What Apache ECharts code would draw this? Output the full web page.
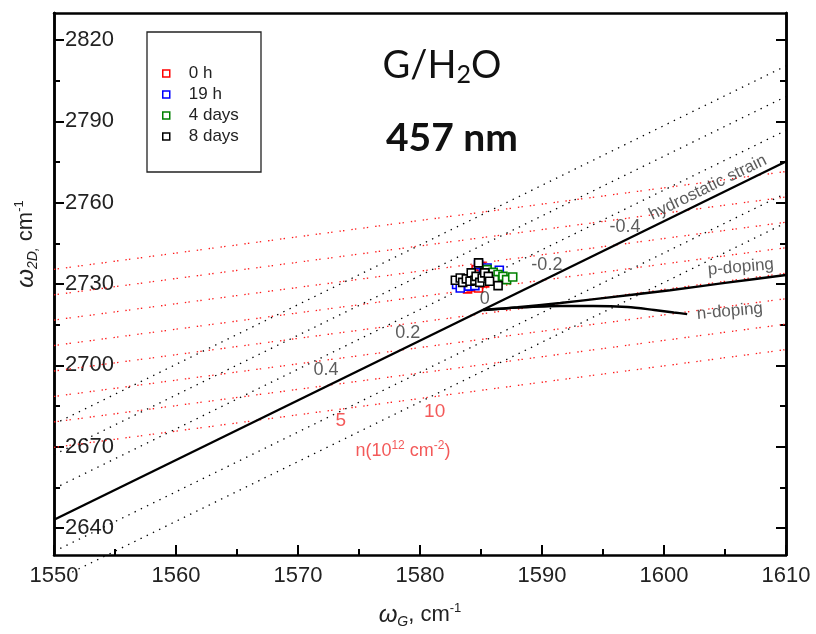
<!DOCTYPE html>
<html><head><meta charset="utf-8">
<script src="https://cdn.jsdelivr.net/npm/echarts@6/dist/echarts.min.js"></script>
<style>html,body{margin:0;padding:0;background:#fff}#c{width:816px;height:634px}</style>
</head><body><div id="c"></div>
<script>
// ---------- data ----------
const seriesNames = ['0 h', '19 h', '4 days', '8 days'];
const h0X = [1583.9, 1584.2, 1584.6, 1585.0, 1584.8, 1585.3, 1585.9];
const h0Y = [2728.2, 2728.9, 2735.3, 2736.5, 2728.5, 2730.4, 2733.1];
const h19X = [1583.0, 1583.3, 1583.7, 1584.8, 1585.2, 1585.5, 1586.5, 1584.0, 1584.5];
const h19Y = [2729.8, 2728.5, 2731.6, 2737.2, 2734.3, 2735.9, 2735.1, 2729.2, 2729.4];
const d4X = [1585.5, 1586.0, 1586.4, 1586.8, 1587.1, 1587.6, 1586.1];
const d4Y = [2735.3, 2734.3, 2733.5, 2732.8, 2731.6, 2732.6, 2731.6];
const d8X = [1582.9, 1583.3, 1583.5, 1583.8, 1584.2, 1584.1, 1584.5, 1584.8, 1584.6, 1584.9, 1585.1, 1585.3, 1585.6, 1585.7, 1586.4];
const d8Y = [2731.4, 2732.2, 2730.6, 2731.9, 2734.1, 2731.0, 2731.4, 2737.8, 2732.8, 2730.6, 2732.2, 2734.1, 2732.8, 2731.0, 2729.4];

const strainX = [1550, 1610];
const strainY = [2643.0, 2775.2];
const pDopX = [1585.2, 1588.0, 1591.5, 1595.0, 1600.5, 1605.0, 1610.0];
const pDopY = [2720.4, 2721.4, 2723.0, 2724.8, 2727.7, 2730.4, 2733.3];
const nDopX = [1585.2, 1588.0, 1591.5, 1594.2, 1597.0, 1599.2, 1600.8, 1601.9];
const nDopY = [2720.4, 2721.3, 2721.9, 2721.9, 2721.5, 2720.4, 2719.5, 2718.9];

// red dotted lines (constant strain), endpoints
const redX0 = 1550, redX1 = 1610;
const redY0 = [2735.4, 2726.0, 2716.7, 2707.3, 2697.9, 2688.5, 2679.1, 2669.7];
const redY1 = [2771.5, 2762.1, 2752.8, 2743.4, 2734.0, 2724.6, 2715.2, 2705.8];
// black dotted lines (constant doping), endpoints
const blackX0 = [1551.5, 1550, 1550, 1550, 1550];
const blackY0 = [2623.7, 2631.3, 2654.5, 2667.0, 2678.3];
const blackX1 = [1610, 1610, 1610, 1610, 1610];
const blackY1 = [2752.6, 2763.5, 2786.7, 2799.2, 2810.5];

const xMin = 1550, xMax = 1610, xStep = 10;
const yMin = 2630, yMax = 2830;
const yTickValues = [2640, 2670, 2700, 2730, 2760, 2790, 2820];
const yMinorValues = [2655, 2685, 2715, 2745, 2775, 2805];

const annotText = ['0', '-0.2', '-0.4', '0.2', '0.4', '5', '10', 'nlabel', 'hydrostatic strain', 'p-doping', 'n-doping'];
const annotX = [1585.3, 1590.4, 1596.8, 1579.0, 1572.3, 1573.5, 1581.2, 1578.6, 1603.6, 1606.3, 1605.4];
const annotY = [2724.6, 2736.9, 2750.9, 2711.8, 2698.2, 2679.7, 2682.7, 2668.3, 2765.6, 2736.2, 2719.9];

// ---------- styles ----------
const colors = ['#ff0000', '#0000ff', '#008000', '#000000'];
const FONT = '"Liberation Sans", Arial, sans-serif';
const zip = (a, b) => a.map((v, i) => [v, b[i]]);

const series = [];
redY0.forEach((y0, i) => {
  series.push({ type: 'line', data: [[redX0, y0], [redX1, redY1[i]]], symbol: 'none', silent: true,
    lineStyle: { color: '#ff1a1a', width: 1.3, type: [1.4, 2.2, 1.4, 7] }, z: 1 });
});
blackY0.forEach((y0, i) => {
  series.push({ type: 'line', data: [[blackX0[i], y0], [blackX1[i], blackY1[i]]], symbol: 'none', silent: true, clip: false,
    lineStyle: { color: '#000', width: 1.3, type: [1.4, 5.5] }, z: 1 });
});
[[strainX, strainY], [pDopX, pDopY], [nDopX, nDopY]].forEach(([xs, ys]) => {
  series.push({ type: 'line', data: zip(xs, ys), symbol: 'none', silent: true, smooth: 0.3,
    lineStyle: { color: '#000', width: 2.4 }, z: 2 });
});
const pts = [[h0X, h0Y], [h19X, h19Y], [d4X, d4Y], [d8X, d8Y]];
pts.forEach(([xs, ys], i) => {
  series.push({ type: 'scatter', name: seriesNames[i], data: zip(xs, ys), symbol: 'rect', symbolSize: 8,
    itemStyle: { color: '#fff', borderColor: colors[i], borderWidth: 1.6, opacity: 1 }, z: 3 + i });
});

const annotStyle = {
  'hydrostatic strain': { rotate: 26, fontSize: 17, color: '#333' },
  'p-doping': { rotate: 5, fontSize: 17, color: '#333' },
  'n-doping': { rotate: 5, fontSize: 17, color: '#333' },
  '5': { fontSize: 19, color: '#f03030' },
  '10': { fontSize: 19, color: '#f03030' },
  'nlabel': { fontSize: 18, color: '#f03030' }
};
series.push({
  type: 'scatter', symbolSize: 0, silent: true, z: 10,
  data: annotText.map((t, i) => {
    const s = annotStyle[t] || { fontSize: 18, color: '#333' };
    return {
      value: [annotX[i], annotY[i]],
      label: {
        show: true, position: [0, 0], align: 'center', verticalAlign: 'middle',
        rotate: s.rotate || 0, color: s.color, fontSize: s.fontSize, fontFamily: FONT,
        formatter: t === 'nlabel' ? '{r|n(10}{sup|12}{r| cm}{sup|-2}{r|)}' : t,
        rich: {
          r: { fontSize: 18, color: s.color, fontFamily: FONT },
          sup: { fontSize: 12, color: s.color, fontFamily: FONT, padding: [0, 0, 12, 0] }
        }
      }
    };
  })
});

const tickStyle = { show: true, inside: true, length: 10, lineStyle: { color: '#000', width: 2 } };
const minorStyle = { show: true, inside: true, length: 6, lineStyle: { color: '#000', width: 2 } };
const axisLine = { show: true, onZero: false, lineStyle: { color: '#000', width: 2.5 } };
const plainNum = v => String(v);

const option = {
  animation: false,
  backgroundColor: '#fff',
  grid: { left: 54, right: 30, top: 13, bottom: 79 },
  xAxis: [
    { type: 'value', min: xMin, max: xMax, interval: xStep, position: 'bottom',
      axisLine, axisTick: tickStyle, minorTick: { show: true, splitNumber: 2, length: 6, lineStyle: { color: '#000', width: 2 } },
      splitLine: { show: false },
      axisLabel: { fontSize: 22, color: '#222', fontFamily: FONT, margin: 10, formatter: plainNum } },
    { type: 'value', min: xMin, max: xMax, interval: xStep, position: 'top',
      axisLine, axisTick: { show: false }, axisLabel: { show: false }, splitLine: { show: false } }
  ],
  yAxis: [
    { type: 'value', min: yMin, max: yMax, position: 'left', axisLine,
      axisTick: Object.assign({ customValues: yTickValues }, tickStyle),
      axisLabel: { inside: true, customValues: yTickValues, fontSize: 22, color: '#222', fontFamily: FONT, margin: 11, formatter: plainNum },
      splitLine: { show: false } },
    { type: 'value', min: yMin, max: yMax, position: 'left', axisLine,
      axisTick: Object.assign({ customValues: yMinorValues }, minorStyle),
      axisLabel: { show: false }, splitLine: { show: false } },
    { type: 'value', min: yMin, max: yMax, position: 'right', axisLine,
      axisTick: Object.assign({ customValues: yTickValues }, tickStyle),
      axisLabel: { show: false }, splitLine: { show: false } },
    { type: 'value', min: yMin, max: yMax, position: 'right', axisLine,
      axisTick: Object.assign({ customValues: yMinorValues }, minorStyle),
      axisLabel: { show: false }, splitLine: { show: false } }
  ],
  legend: {
    orient: 'vertical', left: 162, top: 63, padding: 0, itemGap: 0,
    itemWidth: 7, itemHeight: 7,
    data: seriesNames.map((n, i) => ({ name: n, icon: 'rect',
      itemStyle: { color: '#fff', borderColor: colors[i], borderWidth: 1.5 } })),
    formatter: n => '{s|}' + n,
    textStyle: { fontSize: 17, color: '#222', fontFamily: FONT, lineHeight: 21,
      rich: { s: { width: 14 } } }
  },
  graphic: [
    { type: 'rect', shape: { x: 147, y: 32, width: 114, height: 140 },
      style: { fill: 'none', stroke: '#222', lineWidth: 1.3 }, z: 20 },
    { type: 'text', x: 442, y: 66, z: 20,
      style: { text: '{a|G/H}{b|2}{a|O}', align: 'center', verticalAlign: 'middle',
        rich: { a: { fontSize: 38, fontFamily: 'Lato', fill: '#111' },
                b: { fontSize: 25, fontFamily: 'Lato', fill: '#111', padding: [18, 0, 0, 0] } } } },
    { type: 'text', x: 452, y: 138, z: 20,
      style: { text: '457 nm', align: 'center', verticalAlign: 'middle',
        font: 'bold 39px Lato', fill: '#111' } },
    { type: 'text', x: 420, y: 615, z: 20,
      style: { text: '{w|ω}{s|G}{t|, cm}{p|-1}', align: 'center', verticalAlign: 'middle',
        rich: { w: { fontSize: 24, fontStyle: 'italic', fontFamily: FONT, fill: '#222' },
                s: { fontSize: 14, fontStyle: 'italic', fontFamily: FONT, fill: '#222', padding: [14, 0, 0, 0] },
                t: { fontSize: 22, fontFamily: FONT, fill: '#222' },
                p: { fontSize: 13, fontFamily: FONT, fill: '#222', padding: [0, 0, 14, 0] } } } },
    { type: 'text', x: 26, y: 244, rotation: Math.PI / 2, z: 20,
      style: { text: '{w|ω}{s|2D,}{t| cm}{p|-1}', align: 'center', verticalAlign: 'middle',
        rich: { w: { fontSize: 24, fontStyle: 'italic', fontFamily: FONT, fill: '#222' },
                s: { fontSize: 14, fontStyle: 'italic', fontFamily: FONT, fill: '#222', padding: [14, 0, 0, 0] },
                t: { fontSize: 22, fontFamily: FONT, fill: '#222' },
                p: { fontSize: 13, fontFamily: FONT, fill: '#222', padding: [0, 0, 14, 0] } } } }
  ],
  series
};
const chart = echarts.init(document.getElementById('c'), null, { renderer: 'canvas' });
chart.setOption(option);
</script></body></html>
